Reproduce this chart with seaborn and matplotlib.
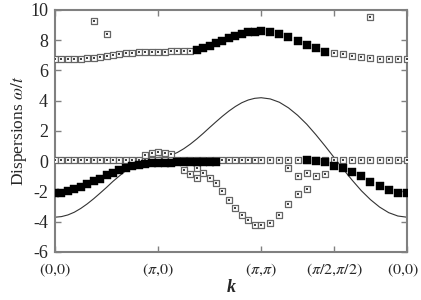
import numpy as np
import matplotlib
matplotlib.use("Agg")
import matplotlib.pyplot as plt
import matplotlib.transforms as mtransforms
import seaborn as sns

# k-path (0,0)->(pi,0)->(pi,pi)->(pi/2,pi/2)->(0,0), step pi/16
corners = [(0, 0), (np.pi, 0), (np.pi, np.pi), (np.pi / 2, np.pi / 2), (0, 0)]
steps = [16, 16, 8, 8]
tick_labels = [r"$(0{,}0)$", r"$(\pi{,}0)$", r"$(\pi{,}\pi)$", r"$(\pi/2{,}\pi/2)$", r"$(0{,}0)$"]

# solid curve, one value per k point
line_vals = [-3.70, -3.66, -3.55, -3.37, -3.12, -2.82, -2.48, -2.11, -1.73, -1.33, -0.97, -0.62,
             -0.33, -0.08, 0.10, 0.21, 0.25,
             0.29, 0.40, 0.58, 0.83, 1.13, 1.47, 1.84, 2.23, 2.61, 2.98, 3.32, 3.62, 3.87, 4.05,
             4.16, 4.20,
             4.12, 3.90, 3.53, 3.04, 2.45, 1.76, 1.02, 0.25,
             -0.52, -1.26, -1.95, -2.54, -3.03, -3.40, -3.62, -3.70]

# open squares (index of k point, value)
upper_open_idx = list(range(0, 22)) + [40] + list(range(41, 49))
upper_open_val = [6.73, 6.73, 6.74, 6.76, 6.78, 6.80, 6.83, 6.88, 6.95, 7.00, 7.08, 7.14, 7.18,
                  7.20, 7.22, 7.23, 7.24, 7.25, 7.26, 7.27, 7.28, 7.30,
                  7.17, 7.09, 6.95, 6.87, 6.80, 6.75, 6.73, 6.73, 6.73]
outlier_idx = [6, 8, 44]
outlier_val = [9.27, 8.41, 9.56]
zero_idx = list(range(0, 49))
zero_val = [0.06] * 49
bump_idx = [14, 15, 16, 17, 18]
bump_val = [0.40, 0.55, 0.62, 0.55, 0.46]
low_idx = [20, 21, 22, 22, 23, 24, 25, 26, 27, 28, 29, 30, 31, 32, 33, 34, 35, 36, 37,
           35, 36, 37, 38, 39]
low_val = [-0.60, -0.84, -0.46, -1.10, -0.77, -1.10, -1.44, -1.97, -2.54, -3.07, -3.53, -3.90,
           -4.20, -4.22, -4.07, -3.53, -2.80, -2.14, -1.81,
           -0.42, -1.00, -0.75, -1.00, -0.82]

# filled squares
upper_fill_idx = list(range(22, 40))
upper_fill_val = [7.35, 7.46, 7.60, 7.80, 7.95, 8.12, 8.28, 8.40, 8.52, 8.56, 8.59,
                  8.52, 8.41, 8.20, 7.95, 7.68, 7.46, 7.24]
lower_fill_idx = list(range(0, 26)) + list(range(37, 49))
lower_fill_val = [-2.10, -2.08, -1.99, -1.85, -1.70, -1.52, -1.32, -1.15, -0.93, -0.77, -0.60,
                  -0.42, -0.31, -0.22, -0.15, -0.13, -0.11,
                  -0.10, -0.09, -0.08, -0.07, -0.06, -0.05, -0.04, -0.03, -0.02,
                  0.07, 0.02, -0.05, -0.32, -0.44, -0.73, -1.00, -1.39, -1.65, -1.88, -2.07, -2.10]

# path length of each k point
kpts = [np.array(corners[0], dtype=float)]
for (a, b), n in zip(zip(corners[:-1], corners[1:]), steps):
    a, b = np.array(a, dtype=float), np.array(b, dtype=float)
    for t in range(1, n + 1):
        kpts.append(a + (b - a) * t / n)
kpts = np.array(kpts)
s = np.concatenate([[0], np.cumsum(np.linalg.norm(np.diff(kpts, axis=0), axis=1))])
tick_pos = s[np.concatenate([[0], np.cumsum(steps)])]

sns.set_style("ticks")
plt.rcParams["font.family"] = ["Liberation Serif", "DejaVu Serif"]
plt.rcParams["mathtext.fontset"] = "stix"
plt.rcParams["axes.unicode_minus"] = False

fig = plt.figure(figsize=(4.21, 3.0), dpi=100)
ax = fig.add_axes([0.1306, 0.16, 0.836, 0.8067])

sns.lineplot(x=s, y=line_vals, color="#333333", linewidth=0.8, ax=ax)


def open_sq(idx, val):
    sns.scatterplot(x=s[idx], y=val, marker="s", s=16, color="white", edgecolor="#666666",
                    linewidth=0.9, ax=ax, zorder=3)
    sns.scatterplot(x=s[idx], y=val, marker="s", s=1.2, color="#444444", linewidth=0,
                    ax=ax, zorder=3)


open_sq(zero_idx, zero_val)
open_sq(upper_open_idx, upper_open_val)
open_sq(outlier_idx, outlier_val)
open_sq(bump_idx, bump_val)
open_sq(low_idx, low_val)

for idx, val in [(upper_fill_idx, upper_fill_val), (lower_fill_idx, lower_fill_val)]:
    sns.scatterplot(x=s[idx], y=val, marker="s", s=30, color="black", edgecolor="black",
                    linewidth=0.3, ax=ax, zorder=4)

ax.set_xlim(s[0], s[-1])
ax.set_ylim(-6, 10)
ax.set_xticks(tick_pos)
ax.set_xticklabels(tick_labels)
ax.set_yticks(np.arange(-6, 11, 2))
ax.tick_params(direction="in", length=4, width=1, color="#808080", labelsize=13,
               top=True, right=True)
ax.tick_params(axis="x", pad=7, labelsize=11.5)
ax.tick_params(axis="y", pad=5)
for sp in ax.spines.values():
    sp.set_color("#808080")
    sp.set_linewidth(1.5)

ax.set_ylabel(r"Dispersions $\omega/t$", fontsize=12.5, labelpad=1)
ax.set_xlabel("k", fontsize=13, fontweight="bold", style="italic")
ax.xaxis.set_label_coords(0.5, -0.11)

# keep the last tick label inside the canvas
last = ax.get_xticklabels()[-1]
last.set_transform(last.get_transform()
                   + mtransforms.ScaledTranslation(-3 / 72, 0, fig.dpi_scale_trans))

fig.savefig("out.png", dpi=100)
